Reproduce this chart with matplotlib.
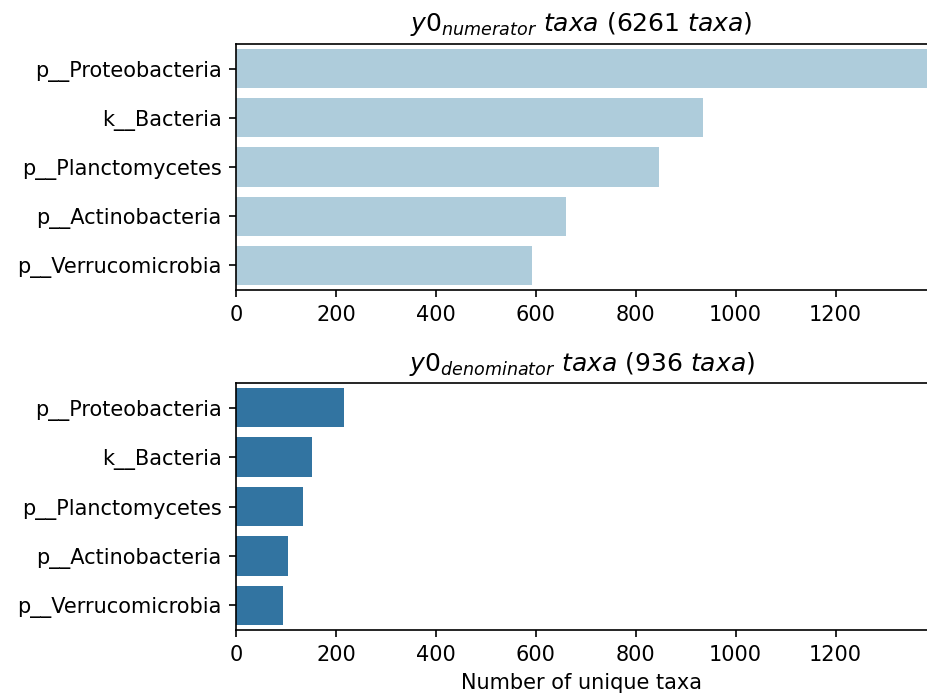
import matplotlib
matplotlib.use("Agg")
import matplotlib.pyplot as plt

# top phyla per log-ratio side
taxa = ["p__Proteobacteria", "k__Bacteria", "p__Planctomycetes",
        "p__Actinobacteria", "p__Verrucomicrobia"]
numerator_counts = [1420, 935, 847, 660, 592]
denominator_counts = [216, 152, 134, 104, 94]
numerator_total = 6261
denominator_total = 936

num_color = "#aeccdb"
den_color = "#3274a1"

fig = plt.figure(figsize=(927 / 150, 696 / 150), dpi=150)
ax1 = fig.add_axes([0.2546, 0.5833, 0.7454, 0.3535])
ax2 = fig.add_axes([0.2546, 0.0948, 0.7454, 0.3549], sharex=ax1)


def draw(ax, counts, color, title):
    ypos = list(range(len(taxa)))
    ax.barh(ypos, counts, height=0.8, color=color)
    ax.set_yticks(ypos)
    ax.set_yticklabels(taxa)
    ax.set_ylim(len(taxa) - 0.5, -0.5)
    ax.set_title(title, fontsize=12)
    ax.spines["right"].set_visible(False)
    ax.tick_params(labelsize=10)


draw(ax1, numerator_counts, num_color,
     r"$y0_{numerator}\ taxa$ (%d $taxa$)" % numerator_total)
draw(ax2, denominator_counts, den_color,
     r"$y0_{denominator}\ taxa$ (%d $taxa$)" % denominator_total)

ax1.set_xlim(0, 1383)
ax1.tick_params(labelbottom=True)
ax2.set_xlabel("Number of unique taxa", fontsize=10)

fig.savefig("out.png", dpi=150)
